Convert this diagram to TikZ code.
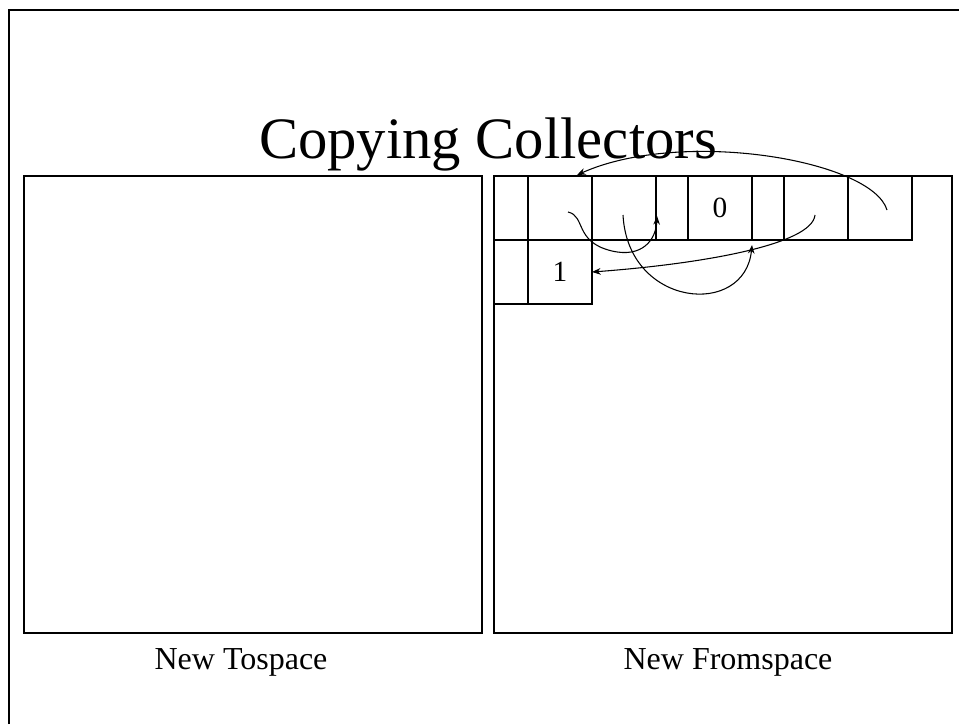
\documentclass[tikz,border=0pt]{standalone}
\usepackage{fontspec}
\setmainfont{Liberation Serif}
\usetikzlibrary{arrows.meta}
\begin{document}
\begin{tikzpicture}[x=0.75pt,y=-0.75pt,
  frame/.style={line width=2.2pt},
  space/.style={draw,line width=1.5pt,inner sep=0pt,outer sep=0pt,anchor=north west,
    minimum width=343.5pt,minimum height=342.75pt},
  cellbox/.style={draw,line width=0.8pt,inner sep=0pt,outer sep=0pt,anchor=north west,
    minimum height=48pt,font=\fontsize{22}{26}\selectfont},
  edgecell/.style={cellbox,minimum width=25.5pt},
  narrow/.style={cellbox,minimum width=24pt},
  wide/.style={cellbox,minimum width=48pt},
  barrier/.style={line width=1.5pt},
  ptr/.style={line width=0.8pt,-{Stealth[length=6.5pt,width=5pt]}},
  caption/.style={font=\fontsize{24}{28}\selectfont,anchor=base},
  heading/.style={font=\fontsize{44}{50}\selectfont,anchor=base}]
\useasboundingbox (0,0) rectangle (959,724);

% slide frame
\draw[frame] (9,724) -- (9,10) -- (959,10);

% title
\node[heading] (title) at (488,158) {Copying Collectors};

% the two semispaces
\node[space] (tospace) at (24,176) {};
\node[space] (fromspace) at (494,176) {};
\node[caption] (tolabel) at (241,669) {New Tospace};
\node[caption] (fromlabel) at (728,669) {New Fromspace};

% first row of heap cells
\node[edgecell] (r1) at (494,176) {};
\node[wide]   (r2) at (528,176) {};
\node[wide]   (r3) at (592,176) {};
\node[narrow] (r4) at (656,176) {};
\node[wide]   (r5) at (688,176) {0};
\node[narrow] (r6) at (752,176) {};
\node[wide]   (r7) at (784,176) {};
\node[wide]   (r8) at (848,176) {};

% second row of heap cells
\node[edgecell] (s1) at (494,240) {};
\node[wide]   (s2) at (528,240) {1};

% scan and allocation boundaries
\draw[barrier] (r4.north west) -- (r4.south west);
\draw[barrier] (r6.north west) -- (r6.south west);

% pointer start and end points
\coordinate (p1) at (887,210);
\coordinate (q1) at (577,175);
\coordinate (p2) at (568,212);
\coordinate (q2) at (657,216);
\coordinate (p3) at (623,215);
\coordinate (q3) at (752,245);
\coordinate (p4) at (815,215);

% pointers
\draw[ptr] (p1) .. controls (872,160) and (682,128) .. (q1);
\draw[ptr] (p2) .. controls (586,216) and (574,242) .. (612,251)
               .. controls (642,258) and (656,240) .. (q2);
\draw[ptr] (p3) .. controls (628,308) and (745,318) .. (q3);
\draw[ptr] (p4) .. controls (812,245) and (700,264) .. (s2.east);
\end{tikzpicture}
\end{document}
